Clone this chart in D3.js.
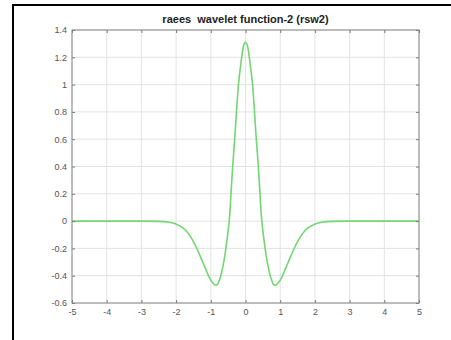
<!DOCTYPE html>
<html>
<head>
<meta charset="utf-8">
<script src="https://cdn.jsdelivr.net/npm/d3@7"></script>
<style>
  body { margin: 0; background: #fff; }
  svg { display: block; font-family: "Liberation Sans", Arial, sans-serif; }
</style>
</head>
<body>
<script>
// values (right half; the curve is mirrored about x = 0)
const xHalf = [0, 0.05, 0.1, 0.15, 0.2, 0.25, 0.3, 0.35, 0.4, 0.45, 0.5, 0.55, 0.6, 0.65, 0.7, 0.75, 0.8, 0.86,
  0.95, 1.05, 1.15, 1.25, 1.35, 1.5, 1.65, 1.8, 2.0, 2.2, 2.5, 3, 4, 5]
const yHalf = [1.31, 1.29, 1.22, 1.12, 1.01, 0.84, 0.64, 0.47, 0.28, 0.06, -0.07, -0.17, -0.26, -0.33, -0.39, -0.43, -0.46, -0.47,
  -0.45, -0.41, -0.35, -0.29, -0.23, -0.15, -0.09, -0.05, -0.022, -0.008, -0.002, 0, 0, 0]

const xTicks = [-5, -4, -3, -2, -1, 0, 1, 2, 3, 4, 5]
const yTicks = [-0.6, -0.4, -0.2, 0, 0.2, 0.4, 0.6, 0.8, 1, 1.2, 1.4]
const title = 'raees  wavelet function-2 (rsw2)'

const points = xHalf.slice(1).map((x, i) => ({ x: -x, y: yHalf[i + 1] })).reverse()
  .concat(xHalf.map((x, i) => ({ x, y: yHalf[i] })))

const W = 451, H = 340
const margin = { top: 30, right: 32, bottom: 37, left: 72 }

const svg = d3.select('body').append('svg')
  .attr('width', W)
  .attr('height', H)

// outer frame (runs off the right and bottom edges)
svg.append('rect')
  .attr('x', 13).attr('y', 5)
  .attr('width', 460).attr('height', 360)
  .attr('fill', 'none')
  .attr('stroke', '#000')
  .attr('stroke-width', 2)

const x = d3.scaleLinear().domain([-5, 5]).range([margin.left, W - margin.right])
const y = d3.scaleLinear().domain([-0.6, 1.4]).range([H - margin.bottom, margin.top])

// plain hyphen for negatives, like the original
const fmt = d => String(+d.toFixed(1))

// grid
svg.append('g')
  .selectAll('line')
  .data(xTicks)
  .join('line')
  .attr('x1', d => x(d)).attr('x2', d => x(d))
  .attr('y1', y(-0.6)).attr('y2', y(1.4))
  .attr('stroke', '#e3e3e3')
svg.append('g')
  .selectAll('line')
  .data(yTicks)
  .join('line')
  .attr('x1', x(-5)).attr('x2', x(5))
  .attr('y1', d => y(d)).attr('y2', d => y(d))
  .attr('stroke', '#e3e3e3')

const line = d3.line()
  .x(d => x(d.x))
  .y(d => y(d.y))
  .curve(d3.curveMonotoneX)

svg.append('path')
  .datum(points)
  .attr('d', line)
  .attr('fill', 'none')
  .attr('stroke', '#72d672')
  .attr('stroke-width', 1.6)

const styleAxis = g => {
  g.select('.domain').remove()
  g.selectAll('.tick line').attr('stroke', '#777')
}

svg.append('g')
  .attr('transform', `translate(0,${y(-0.6)})`)
  .call(d3.axisBottom(x).tickValues(xTicks).tickSize(-3).tickPadding(6).tickFormat(fmt))
  .call(styleAxis)
svg.append('g')
  .attr('transform', `translate(0,${y(1.4)})`)
  .call(d3.axisTop(x).tickValues(xTicks).tickSize(-3).tickFormat(''))
  .call(styleAxis)
svg.append('g')
  .attr('transform', `translate(${x(-5)},0)`)
  .call(d3.axisLeft(y).tickValues(yTicks).tickSize(-3).tickPadding(5).tickFormat(fmt))
  .call(styleAxis)
svg.append('g')
  .attr('transform', `translate(${x(5)},0)`)
  .call(d3.axisRight(y).tickValues(yTicks).tickSize(-3).tickFormat(''))
  .call(styleAxis)

svg.selectAll('.tick text').attr('font-size', 9).attr('fill', '#555').attr('font-family', null)

// axes box
svg.append('rect')
  .attr('x', x(-5)).attr('y', y(1.4))
  .attr('width', x(5) - x(-5)).attr('height', y(-0.6) - y(1.4))
  .attr('fill', 'none')
  .attr('stroke', '#888')
  .attr('stroke-width', 1)

svg.append('text')
  .attr('x', (x(-5) + x(5)) / 2)
  .attr('y', 23)
  .attr('text-anchor', 'middle')
  .attr('font-size', 11)
  .attr('font-weight', 'bold')
  .attr('fill', '#222')
  .style('white-space', 'pre')
  .text(title)
</script>
</body>
</html>
